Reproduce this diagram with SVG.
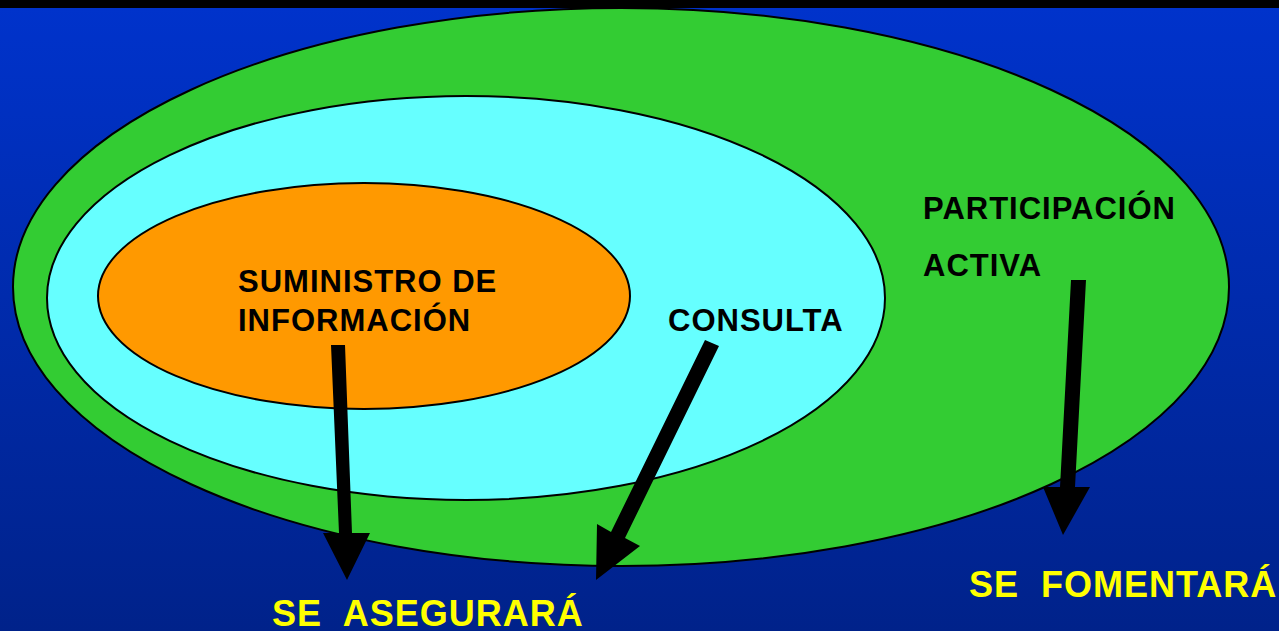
<svg xmlns="http://www.w3.org/2000/svg" width="1279" height="631" viewBox="0 0 1279 631">
<defs>
<linearGradient id="bg" x1="0" y1="0" x2="0" y2="1">
<stop offset="0" stop-color="#0033cc"/>
<stop offset="1" stop-color="#00228a"/>
</linearGradient>
<style>
.lbl{font-family:"Liberation Sans",Arial,sans-serif;font-weight:bold;font-size:31px;letter-spacing:1px;fill:#000}
.res{font-family:"Liberation Sans",Arial,sans-serif;font-weight:bold;font-size:36px;letter-spacing:1px;fill:#ffff00;white-space:pre}
.ell{stroke:#000;stroke-width:2}
.arrow{fill:#000}
</style>
</defs>
<rect x="0" y="0" width="1279" height="631" fill="url(#bg)"/>
<rect x="0" y="0" width="1279" height="8" fill="#000"/>
<g id="participacion">
<ellipse class="ell" cx="621" cy="287" rx="608" ry="279" fill="#33cc33"/>
<text class="lbl" x="923" y="219">PARTICIPACIÓN</text>
<text class="lbl" x="923" y="276">ACTIVA</text>
</g>
<g id="consulta">
<ellipse class="ell" cx="466" cy="298" rx="419" ry="202" fill="#66ffff"/>
<text class="lbl" x="668" y="331">CONSULTA</text>
</g>
<g id="suministro">
<ellipse class="ell" cx="364" cy="296" rx="266" ry="113" fill="#ff9900"/>
<text class="lbl" x="238" y="292">SUMINISTRO DE</text>
<text class="lbl" x="238" y="331">INFORMACIÓN</text>
</g>
<g id="connectors">
<polygon class="arrow" points="331,345 345,345 352,533 370,533 347,580 323,533 339,533"/>
<polygon class="arrow" points="705,340 719,346 625,538 640,546 596,580 597,524 611,532"/>
<polygon class="arrow" points="1071,280 1086,280 1075,487 1090,487 1063,535 1043,487 1060,487"/>
</g>
<g id="se-asegurara">
<text class="res" x="272" y="626" xml:space="preserve">SE  ASEGURARÁ</text>
</g>
<g id="se-fomentara">
<text class="res" x="969" y="597" xml:space="preserve">SE  FOMENTARÁ</text>
</g>
</svg>
